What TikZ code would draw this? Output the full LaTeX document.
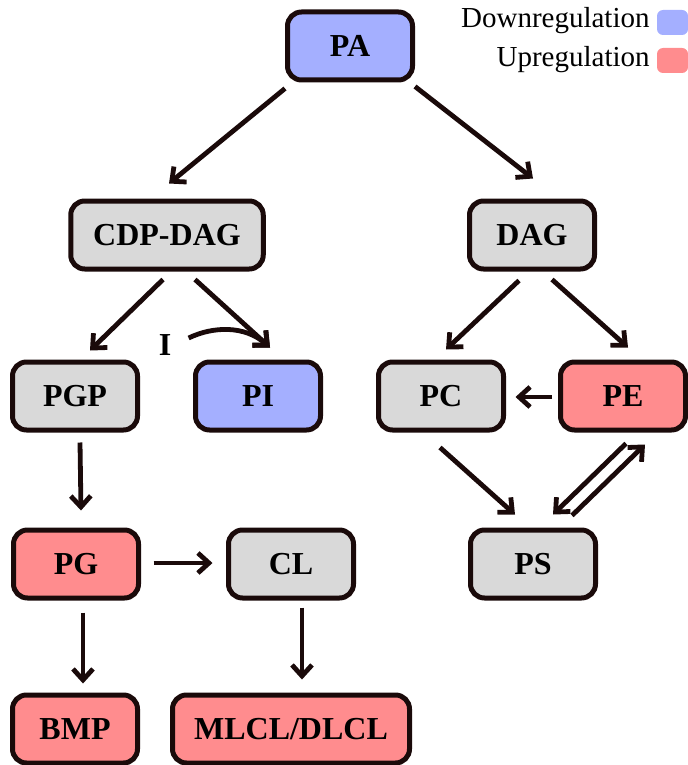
\documentclass[tikz,border=0pt]{standalone}
\usepackage{fontspec}
\setmainfont{Liberation Serif}
\usetikzlibrary{shapes,arrows.meta,calc}
\definecolor{upRed}{RGB}{255,140,142}
\definecolor{downBlue}{RGB}{164,175,255}
\definecolor{plainGrey}{RGB}{217,217,217}
\definecolor{inkDark}{RGB}{26,10,10}

\begin{document}
\begin{tikzpicture}[x=0.5pt, y=-0.5pt]%
  \tikzset{normal arrow/.style={draw,-{Straight Barb[length=5.5pt,width=10pt]},line width=2.4pt,inkDark}}
  \tikzset{lipid/.style={draw=inkDark, line width=2.5pt, rounded corners=7pt, fill=plainGrey, text=black, minimum width=62.5pt, minimum height=34pt, inner sep=0pt, font=\fontsize{16}{18}\selectfont\bfseries}}
  \tikzset{key/.style={draw=none, rounded corners=3pt, minimum width=15.5pt, minimum height=12.5pt, inner sep=0pt}}
  \useasboundingbox (0,0) rectangle (688,765);

  % legend
  \node[anchor=base east, inner sep=0pt, font=\fontsize{14.5}{16}\selectfont] at (650,28) (DownText) {Downregulation};
  \node[anchor=base east, inner sep=0pt, font=\fontsize{14.5}{16}\selectfont] at (650,67) (UpText) {Upregulation};
  \node[key,fill=downBlue] at (672.5,22.5) (DownKey) {};
  \node[key,fill=upRed] at (672.5,60.5) (UpKey) {};

  \node[lipid,fill=downBlue] at (350,46) (PA) {PA};
  \node[lipid,minimum width=96.25pt] at (167,235) (CDPDAG) {CDP-DAG};
  \node[lipid] at (532,235) (DAG) {DAG};
  \node[lipid] at (75,396) (PGP) {PGP};
  \node[lipid,fill=downBlue] at (258,396) (PI) {PI};
  \node[lipid] at (441,396) (PC) {PC};
  \node[lipid,fill=upRed] at (623,396) (PE) {PE};
  \node[lipid,fill=upRed] at (76,564) (PG) {PG};
  \node[lipid] at (291,564) (CL) {CL};
  \node[lipid] at (533,564) (PS) {PS};
  \node[lipid,fill=upRed] at (75,729) (BMP) {BMP};
  \node[lipid,fill=upRed,minimum width=118.5pt] at (291,729) (MLCL) {MLCL/DLCL};
  \node[font=\fontsize{16}{18}\selectfont\bfseries, inner sep=0pt] at (165,345) (Ilabel) {I};

  \path[normal arrow] ($(PA.south west)+(0,6)$) -- ($(CDPDAG.north)+(2,-15)$);
  \path[normal arrow] ($(PA.south east)+(0,4)$) -- ($(DAG.north)+(1,-20)$);
  \path[normal arrow] ($(CDPDAG.south)+(-4,8)$) -- ($(PGP.north)+(15,-9)$);
  \path[normal arrow] ($(CDPDAG.south)+(28,8)$) -- ($(PI.north)+(12,-12)$);
  \path[normal arrow] ($(Ilabel.east)+(17,-7)$) .. controls +(25,-12) and +(-25,-22) .. ($(PI.north)+(12,-12)$);
  \path[normal arrow] ($(DAG.south)+(-13,9)$) -- ($(PC.north)+(5,-10)$);
  \path[normal arrow] ($(DAG.south)+(20,8)$) -- ($(PE.north)+(5,-12)$);
  \path[normal arrow] ($(PE.west)+(-6,1)$) -- ($(PC.east)+(9.5,1)$);
  \path[normal arrow] ($(PC.south)+(-1,15)$) -- ($(PS.north)+(-18,-13)$);
  \path[normal arrow] ($(PE.south)+(3,11)$) -- ($(PS.north)+(20,-13)$);
  \path[normal arrow] ($(PS.north)+(39,-12)$) -- ($(PE.south)+(22,12)$);
  \path[normal arrow] ($(PGP.south)+(5,10)$) -- ($(PG.north)+(5,-17)$);
  \path[normal arrow] ($(PG.east)+(12.5,-1)$) -- ($(CL.west)+(-13.5,-1)$);
  \path[normal arrow] ($(PG.south)+(7,12)$) -- ($(BMP.north)+(8,-9)$);
  \path[normal arrow] ($(CL.south)+(11,7)$) -- ($(MLCL.north)+(11,-13)$);
\end{tikzpicture}
\end{document}
